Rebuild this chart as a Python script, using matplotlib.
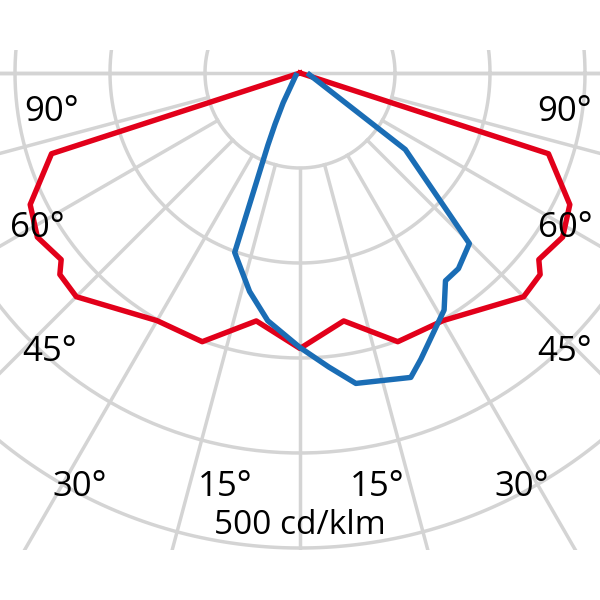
import numpy as np
import matplotlib
matplotlib.use('Agg')
import matplotlib.pyplot as plt

# light distribution, cd/klm
red_gamma = [0, 10, 20, 30, 45, 50, 52, 58, 64, 72, 90]
red_int = [290, 265, 301, 301, 333, 330, 319, 326, 316, 275, 0]

blue_gamma = [-60, -29.5, -26, -24, -20, -13, -7.4, 0, 5.6, 10.2, 20, 22.9, 31.3, 35, 39, 44.8, 54, 80]
blue_int = [5, 36, 60, 83, 201, 236, 263, 289, 311, 332, 341, 327, 292, 267, 265, 253, 137, 10]

ring_vals = [100, 200, 300, 400, 500, 600]
angle_labels = ['90°', '60°', '45°', '30°', '15°', '15°', '30°', '45°', '60°', '90°']
label_pos = [(52, 112), (37, 228), (50, 352), (80, 487), (225, 487),
             (377, 487), (522, 487), (565, 352), (565, 228), (565, 112)]

cx, cy = 300, 73
scale = 0.95  # px per cd/klm

def to_xy(g, v):
    g = np.radians(np.asarray(g, float))
    v = np.asarray(v, float) * scale
    return cx + v * np.sin(g), cy + v * np.cos(g)

fig = plt.figure(figsize=(6, 6), dpi=100)
ax = fig.add_axes([0, 50 / 600, 1, 500 / 600])
ax.set_xlim(0, 600)
ax.set_ylim(550, 50)
ax.axis('off')

grid = '#d4d4d4'
t = np.linspace(0, 2 * np.pi, 400)
for rv in ring_vals:
    r = rv * scale
    ax.plot(cx + r * np.cos(t), cy + r * np.sin(t), color=grid, lw=2.5, zorder=1)
for a in range(-90, 91, 15):
    x, y = to_xy([a, a], [100, 800])
    ax.plot(x, y, color=grid, lw=2.5, zorder=1)
ax.plot([0, 600], [cy, cy], color=grid, lw=2.5, zorder=1)

# red: symmetric C0/C180
rg = [-g for g in red_gamma[::-1]] + red_gamma[1:]
ri = red_int[::-1] + red_int[1:]
x, y = to_xy(rg, ri)
ax.plot(x, y, color='#e2001a', lw=3.9, zorder=3)
x, y = to_xy(blue_gamma, blue_int)
ax.plot(x, y, color='#1a6db5', lw=3.9, zorder=4)

for s, (px, py) in zip(angle_labels, label_pos):
    ax.text(px, py, s, fontsize=25, family='Open Sans', ha='center', va='center', zorder=5)
ax.text(300, 525, '500 cd/klm', fontsize=24, family='Open Sans', ha='center', va='center', zorder=5)

fig.savefig('out.png', dpi=100)
